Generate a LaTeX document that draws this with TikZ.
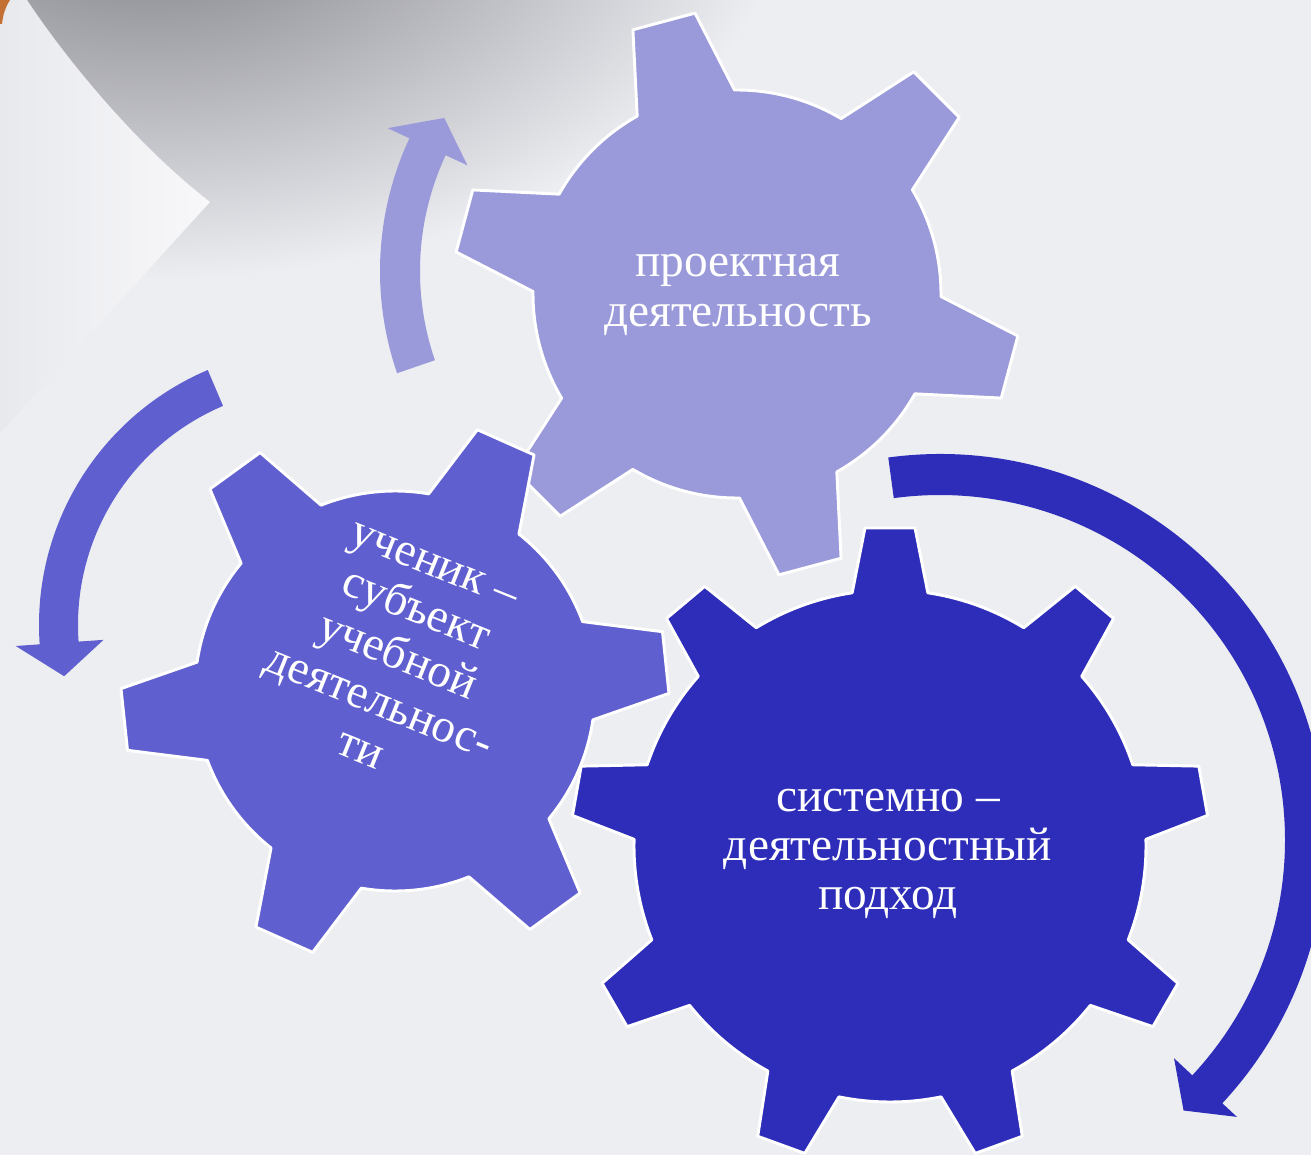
\documentclass[tikz,border=0pt]{standalone}
\usepackage{fontspec}
\setmainfont{Liberation Serif}
\definecolor{bgback}{RGB}{237,238,242}
\definecolor{curlgrey}{RGB}{118,118,126}
\definecolor{curlorange}{RGB}{196,112,52}
\definecolor{pagewhite}{RGB}{248,248,250}
\definecolor{pageshade}{RGB}{232,233,237}
\definecolor{gearlight}{RGB}{154,154,218}
\definecolor{gearmid}{RGB}{95,95,207}
\definecolor{geardark}{RGB}{45,45,185}
\tikzset{
  gearline/.style={draw=white, line width=2.2pt, line join=round},
  geartext/.style={text=white, align=center, inner sep=0pt, font=\fontsize{35.5}{37.5}\selectfont}
}
\begin{document}
\begin{tikzpicture}[x=0.75pt,y=0.75pt,yscale=-1,xscale=1]
	\useasboundingbox (0,0) rectangle (1311,1155);
	\clip (0,0) rectangle (1311,1155);

	%Background
	\fill [bgback] (0,0) rectangle (1311,1155);
	%Shape: page curl shadow
	\shade [inner color=curlgrey, outer color=bgback] (150,-120) ellipse [x radius=640, y radius=400];
	%Shape: page curl
	\shade [left color=pageshade, right color=pagewhite] (27,0) .. controls (60,50) and (130,140) .. (210,202) -- (0,433) -- (0,0) -- cycle;
	\fill [curlorange] (0,0) -- (10,0) .. controls (5,8) and (3,15) .. (2,24) -- (0,24) -- cycle;

	%Circular Arrow: top
	\fill [gearlight, shift={(694,271)}] (161:314) arc[start angle=161, end angle=205, radius=314] -- (205:338) -- (211.5:293) -- (205:250) -- (205:274) arc[start angle=205, end angle=161, radius=274] -- cycle;
	%Circular Arrow: left
	\fill [gearmid, shift={(316,625)}] (247:277) arc[start angle=247, end angle=176, radius=277] -- (176:301) -- (168.5:257) -- (176:213) -- (176:238) arc[start angle=176, end angle=247, radius=238] -- cycle;
	%Circular Arrow: right
	\fill [geardark, shift={(940,840)}] (262.3:386) arc[start angle=262.3, end angle=403, radius=386] -- (43:406) -- (48:364) -- (43:320) -- (43:345) arc[start angle=43, end angle=-97.7, radius=345] -- cycle;

	%Shape: Gear top
	\draw [gearline, fill=gearlight, shift={(737,294)}] (0.7:204) \foreach \a in {15,75,...,315} { -- (\a-14.3:204) -- (\a-6.5:284) -- (\a+6.5:284) -- (\a+14.3:204) arc[start angle=\a+14.3, end angle=\a+45.7, radius=204] } -- cycle;
	%Shape: Gear left
	\draw [gearline, fill=gearmid, shift={(395,691)}] (39.7:200) \foreach \a in {54,114,...,354} { -- (\a-14.3:200) -- (\a-6.5:274) -- (\a+6.5:274) -- (\a+14.3:200) arc[start angle=\a+14.3, end angle=\a+45.7, radius=200] } -- cycle;
	%Shape: Gear big
	\draw [gearline, fill=geardark, shift={(890,846)}] (21.5:256) \foreach \a in {30,70,...,350} { -- (\a-8.5:256) -- (\a-4.5:319) -- (\a+4.5:319) -- (\a+8.5:256) arc[start angle=\a+8.5, end angle=\a+31.5, radius=256] } -- cycle;

	% Text Node
	\node [geartext] (proekt) at (738,295) {проектная\\деятельность};
	% Text Node
	\node [geartext, rotate=-22] (uchenik) at (397,658) {ученик –\\субъект\\учебной\\деятельнос-\\ти};
	% Text Node
	\node [geartext, font=\fontsize{35.5}{36.5}\selectfont] (podhod) at (888,854) {системно –\\деятельностный\\подход};
\end{tikzpicture}
\end{document}
